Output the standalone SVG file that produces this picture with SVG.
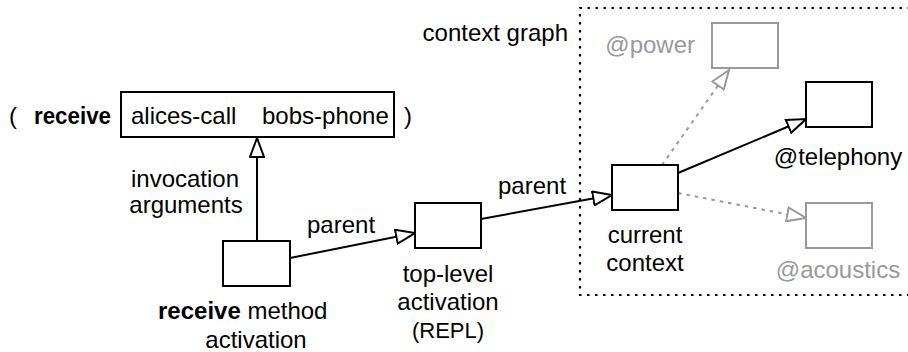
<svg xmlns="http://www.w3.org/2000/svg" width="908" height="352" viewBox="0 0 908 352">
<style>
text{font-family:"Liberation Sans",Arial,Helvetica,sans-serif;font-size:24px;fill:#000}
.g{fill:#999}
.b{font-weight:bold}
.c{text-anchor:middle}
.box{fill:#fff;stroke:#000;stroke-width:2}
.gbox{fill:#fff;stroke:#999;stroke-width:2}
.edge{fill:none;stroke:#000;stroke-width:2}
.gedge{fill:none;stroke:#999;stroke-width:2;stroke-dasharray:3.5 5}
.frame{fill:none;stroke:#000;stroke-width:2.2;stroke-dasharray:2.5 5.5}
</style>
<defs>
<marker id="ah" markerUnits="userSpaceOnUse" markerWidth="22" markerHeight="16" refX="19" refY="7" orient="auto" viewBox="-1 -1 22 16">
<path d="M0,0 L19,7 L0,14 Z" fill="#fff" stroke="#000" stroke-width="2"/>
</marker>
<marker id="gah" markerUnits="userSpaceOnUse" markerWidth="22" markerHeight="16" refX="19" refY="7" orient="auto" viewBox="-1 -1 22 16">
<path d="M0,0 L19,7 L0,14 Z" fill="#fff" stroke="#999" stroke-width="2"/>
</marker>
</defs>

<g id="frame">
<path class="frame" d="M910,8 H580 V295 H910"/>
<text x="568" y="41" text-anchor="end">context graph</text>
</g>

<g id="connectors">
<path class="edge" d="M257,241 V138" marker-end="url(#ah)"/>
<path class="edge" d="M290,258 L415,233" marker-end="url(#ah)"/>
<path class="edge" d="M481,219 L612,195" marker-end="url(#ah)"/>
<path class="edge" d="M678,173 L806,119" marker-end="url(#ah)"/>
<path class="gedge" d="M662,165 L729,70" marker-end="url(#gah)"/>
<path class="gedge" d="M678,193 L806,218" marker-end="url(#gah)"/>
<text x="185" y="187" class="c">invocation</text>
<text x="186" y="213" class="c">arguments</text>
<text x="307" y="233">parent</text>
<text x="498" y="194">parent</text>
</g>

<g id="args">
<text x="9" y="124">(</text>
<text x="34" y="124" class="b" textLength="77" lengthAdjust="spacingAndGlyphs">receive</text>
<rect class="box" x="121" y="92" width="273" height="45"/>
<text x="131" y="124">alices-call</text>
<text x="262" y="124">bobs-phone</text>
<text x="404" y="124">)</text>
</g>

<g id="receive-activation">
<rect class="box" x="223" y="241" width="67" height="45"/>
<text x="158" y="319"><tspan class="b">receive</tspan> method</text>
<text x="256" y="348" class="c">activation</text>
</g>

<g id="top-level">
<rect class="box" x="415" y="203" width="66" height="45"/>
<text x="448" y="282" class="c">top-level</text>
<text x="448" y="310" class="c">activation</text>
<text x="448" y="338" class="c" style="font-size:22px">(REPL)</text>
</g>

<g id="current-context">
<rect class="box" x="612" y="165" width="66" height="45"/>
<text x="645" y="243" class="c">current</text>
<text x="645" y="271" class="c">context</text>
</g>

<g id="power">
<rect class="gbox" x="712" y="23" width="66" height="45"/>
<text x="695" y="53" class="g" text-anchor="end">@power</text>
</g>

<g id="telephony">
<rect class="box" x="806" y="82" width="66" height="45"/>
<text x="838" y="165" class="c">@telephony</text>
</g>

<g id="acoustics">
<rect class="gbox" x="806" y="203" width="66" height="45"/>
<text x="838" y="278" class="c g">@acoustics</text>
</g>
</svg>
